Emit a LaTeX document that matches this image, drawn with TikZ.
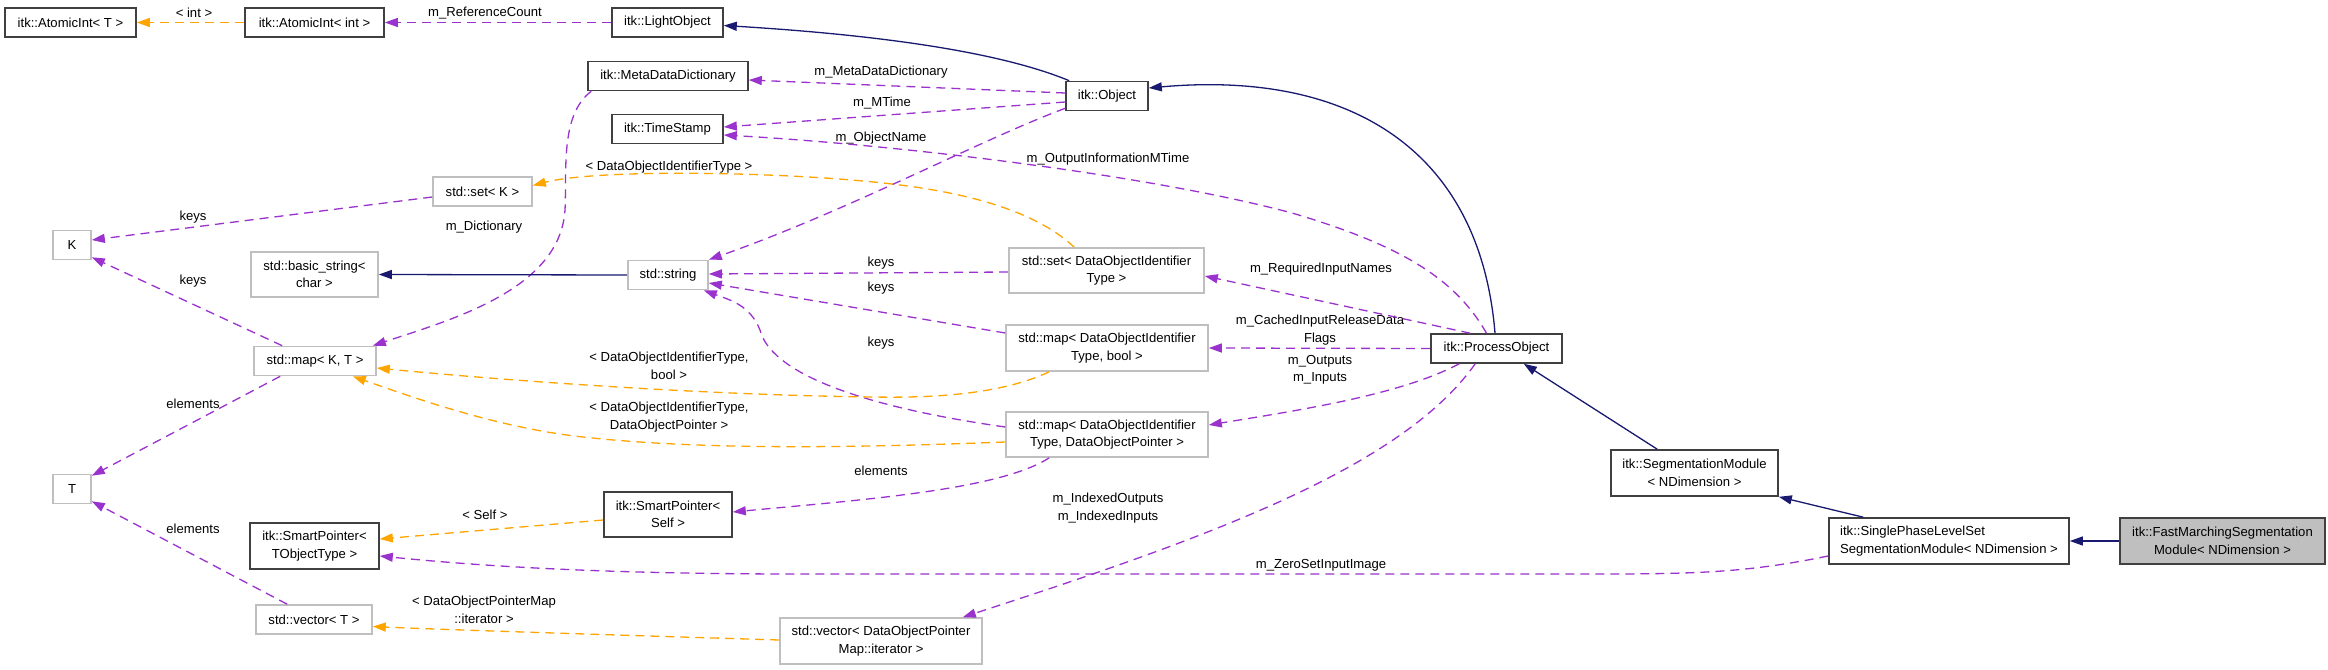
\documentclass[tikz,border=0pt]{standalone}
\usepackage{fontspec}
\setmainfont{Liberation Sans}
\usetikzlibrary{arrows.meta,calc}
\definecolor{epurple}{HTML}{9A32CD}
\definecolor{eorange}{HTML}{FFA500}
\definecolor{enavy}{HTML}{191970}
\definecolor{dgray}{HTML}{404040}
\definecolor{lgray}{HTML}{BFBFBF}
\newcommand{\dgfont}{\fontsize{13.1}{17.5}\selectfont}
\begin{document}
\begin{tikzpicture}[x=1pt,y=-1pt,
  box/.style={draw=dgray, line width=1.6pt, fill=white, inner sep=0pt, align=center, font=\dgfont},
  gbox/.style={box, draw=lgray},
  lab/.style={font=\dgfont, inner sep=0pt, align=center},
  arr/.style={-{Triangle[length=13pt,width=9pt]}},
  pe/.style={draw=epurple, line width=1.3pt, dash pattern=on 9pt off 6pt, arr, fill=none},
  oe/.style={draw=eorange, line width=1.3pt, dash pattern=on 9pt off 6pt, arr, fill=none},
  ne/.style={draw=enavy, line width=1.3pt, arr, fill=none},
  every edge/.style={draw}
]
\useasboundingbox (0,0) rectangle (2328,669);
\fill[white] (0,0) rectangle (2328,669);

% nodes
\node[box, minimum width=131pt, minimum height=29pt] (aiT) at (70.5,22.5) {itk::AtomicInt< T >};
\node[box, minimum width=139pt, minimum height=29pt] (aiInt) at (314.5,22.5) {itk::AtomicInt< int >};
\node[box, minimum width=111pt, minimum height=29pt] (light) at (667.5,22.5) {itk::LightObject};
\node[box, minimum width=160pt, minimum height=29pt] (mdd) at (668,76) {itk::MetaDataDictionary};
\node[box, minimum width=111pt, minimum height=29pt] (ts) at (667.5,129) {itk::TimeStamp};
\node[gbox, minimum width=99pt, minimum height=29pt] (setK) at (482.5,191.5) {std::set< K >};
\node[gbox, minimum width=38pt, minimum height=29pt] (K) at (72,245) {K};
\node[gbox, minimum width=127pt, minimum height=45pt] (bstr) at (314.5,274.5) {std::basic\_string<\\char >};
\node[gbox, minimum width=80pt, minimum height=29pt] (str) at (668,275) {std::string};
\node[gbox, minimum width=122pt, minimum height=29pt] (mapKT) at (315,361) {std::map< K, T >};
\node[gbox, minimum width=38pt, minimum height=29pt] (T) at (72,489) {T};
\node[box, minimum width=129pt, minimum height=46pt] (spT) at (314.5,546) {itk::SmartPointer<\\TObjectType >};
\node[box, minimum width=128pt, minimum height=45pt] (spS) at (668,514.5) {itk::SmartPointer<\\Self >};
\node[gbox, minimum width=116pt, minimum height=29pt] (vecT) at (314,619.5) {std::vector< T >};
\node[gbox, minimum width=202pt, minimum height=46pt] (vecD) at (881,641) {std::vector< DataObjectPointer\\Map::iterator >};
\node[box, minimum width=82pt, minimum height=29pt] (obj) at (1107,96) {itk::Object};
\node[gbox, minimum width=195pt, minimum height=45pt] (setD) at (1106.5,270.5) {std::set< DataObjectIdentifier\\Type >};
\node[gbox, minimum width=202pt, minimum height=46pt] (mapB) at (1107,348) {std::map< DataObjectIdentifier\\Type, bool >};
\node[gbox, minimum width=202pt, minimum height=45pt] (mapD) at (1107,434.5) {std::map< DataObjectIdentifier\\Type, DataObjectPointer >};
\node[box, minimum width=131pt, minimum height=29pt] (po) at (1496.5,348.5) {itk::ProcessObject};
\node[box, minimum width=167pt, minimum height=46pt] (seg) at (1694.5,473) {itk::SegmentationModule\\< NDimension >};
\node[box, minimum width=240pt, minimum height=46pt, align=left] (spl) at (1949,541) {itk::SinglePhaseLevelSet\\SegmentationModule< NDimension >};
\node[box, fill=lgray, minimum width=205pt, minimum height=46pt] (fm) at (2222.5,541) {itk::FastMarchingSegmentation\\Module< NDimension >};

% labels
\node[lab] (l1) at (194,13) {< int >};
\node[lab] (l2) at (485,13) {m\_ReferenceCount};
\node[lab] (l3) at (881,72) {m\_MetaDataDictionary};
\node[lab] (l4) at (882,103) {m\_MTime};
\node[lab] (l5) at (881,138) {m\_ObjectName};
\node[lab] (l6) at (1108,159) {m\_OutputInformationMTime};
\node[lab] (l7) at (669,167) {< DataObjectIdentifierType >};
\node[lab] (l8) at (193,217) {keys};
\node[lab] (l9) at (484,227) {m\_Dictionary};
\node[lab] (l10) at (193,281) {keys};
\node[lab] (l11) at (881,263) {keys};
\node[lab] (l12) at (881,288) {keys};
\node[lab] (l13) at (881,343) {keys};
\node[lab] (l14) at (1321,269) {m\_RequiredInputNames};
\node[lab] (l15) at (1320,330) {m\_CachedInputReleaseData\\Flags};
\node[lab] (l16) at (1320,370) {m\_Outputs\\m\_Inputs};
\node[lab] (l17) at (669,366) {< DataObjectIdentifierType,\\bool >};
\node[lab] (l18) at (669,417) {< DataObjectIdentifierType,\\DataObjectPointer >};
\node[lab] (l19) at (193,404) {elements};
\node[lab] (l20) at (881,471) {elements};
\node[lab] (l21) at (1108,508) {m\_IndexedOutputs\\m\_IndexedInputs};
\node[lab] (l22) at (485,515) {< Self >};
\node[lab] (l23) at (193,529) {elements};
\node[lab] (l24) at (1321,565) {m\_ZeroSetInputImage};
\node[lab] (l25) at (484,610) {< DataObjectPointerMap\\::iterator >};

% edges
\draw[oe] (aiInt.west) -- (aiT.east);
\draw[pe] (light.west) -- (aiInt.east);
\draw[ne] ($(obj.north west)+(4,0)$) .. controls (1000,52) and (880,35) .. ($(light.east)+(0,3)$);
\draw[pe] ($(obj.west)+(0,-3)$) -- ($(mdd.east)+(0,4)$);
\draw[pe] ($(obj.west)+(0,6)$) -- ($(ts.east)+(0,-2)$);
\draw[pe] ($(po.north)+(-10,0)$) .. controls (1455,278) and (1400,245) .. (1292,213) .. controls (1150,175) and (900,145) .. ($(ts.east)+(0,6)$);
\draw[pe] ($(obj.south west)+(0,-3)$) .. controls (980,140) and (850,210) .. (str.north east);
\draw[ne] ($(po.north)+(-1.5,0)$) .. controls (1480,150) and (1350,70) .. ($(obj.east)+(0,-8)$);
\draw[pe] ($(mdd.south west)+(4,0)$) .. controls (560,115) and (567,170) .. (565,210) .. controls (560,290) and (450,320) .. ($(mapKT.north east)+(-4,0)$);
\draw[pe] ($(setK.west)+(0,5.5)$) -- ($(K.east)+(0,-5)$);
\draw[pe] ($(mapKT.north west)+(29,0)$) -- ($(K.south east)+(0,-3)$);
\draw[pe] ($(mapKT.south west)+(27,0)$) -- ($(T.north east)+(0,2)$);
\draw[pe] ($(vecT.north west)+(32,0)$) -- ($(T.south east)+(0,-3)$);
\draw[ne] (str.west) -- (bstr.east);
\draw[oe] ($(setD.north west)+(66,0)$) .. controls (1040,215) and (980,195) .. (900,185) .. controls (800,172) and (600,168) .. ($(setK.east)+(0,-6)$);
\draw[pe] ($(setD.west)+(0,1.5)$) -- ($(str.east)+(0,-1)$);
\draw[pe] ($(mapB.west)+(0,-15)$) -- ($(str.east)+(0,8)$);
\draw[pe] ($(mapD.west)+(0,-7.5)$) .. controls (850,405) and (770,370) .. (760,330) .. controls (750,305) and (730,300) .. ($(str.south east)+(-5,0)$);
\draw[oe] ($(mapB.south west)+(44,0)$) .. controls (1000,395) and (930,398) .. (873,397) .. controls (700,395) and (500,380) .. ($(mapKT.east)+(0,7)$);
\draw[oe] ($(mapD.west)+(0,7.5)$) .. controls (850,448) and (700,450) .. (583,437) .. controls (500,428) and (420,400) .. ($(mapKT.south east)+(-24,0)$);
\draw[pe] ($(mapD.south west)+(44,0)$) .. controls (1000,490) and (860,500) .. ($(spS.east)+(0,-2.5)$);
\draw[oe] ($(spS.west)+(0,5.5)$) -- ($(spT.east)+(0,-7)$);
\draw[pe] ($(spl.west)+(0,15)$) .. controls (1750,572) and (1700,574) .. (1600,574) -- (800,574) .. controls (600,574) and (480,566) .. ($(spT.east)+(0,10)$);
\draw[oe] ($(vecD.west)+(0,-1)$) .. controls (650,636) and (450,630) .. ($(vecT.east)+(0,7)$);
\draw[pe] ($(po.north west)+(40,0)$) -- ($(setD.east)+(0,5.5)$);
\draw[pe] (po.west) -- (mapB.east);
\draw[pe] ($(po.south west)+(29,0)$) .. controls (1400,395) and (1300,410) .. ($(mapD.east)+(0,-9.5)$);
\draw[pe] ($(po.south west)+(45,0)$) .. controls (1400,470) and (1200,540) .. ($(vecD.north east)+(-20,0)$);
\draw[ne] ($(seg.north west)+(47,0)$) -- ($(po.south east)+(-39,0)$);
\draw[ne] ($(spl.north west)+(35,0)$) -- (seg.south east);
\draw[ne] (fm.west) -- (spl.east);
\end{tikzpicture}
\end{document}
